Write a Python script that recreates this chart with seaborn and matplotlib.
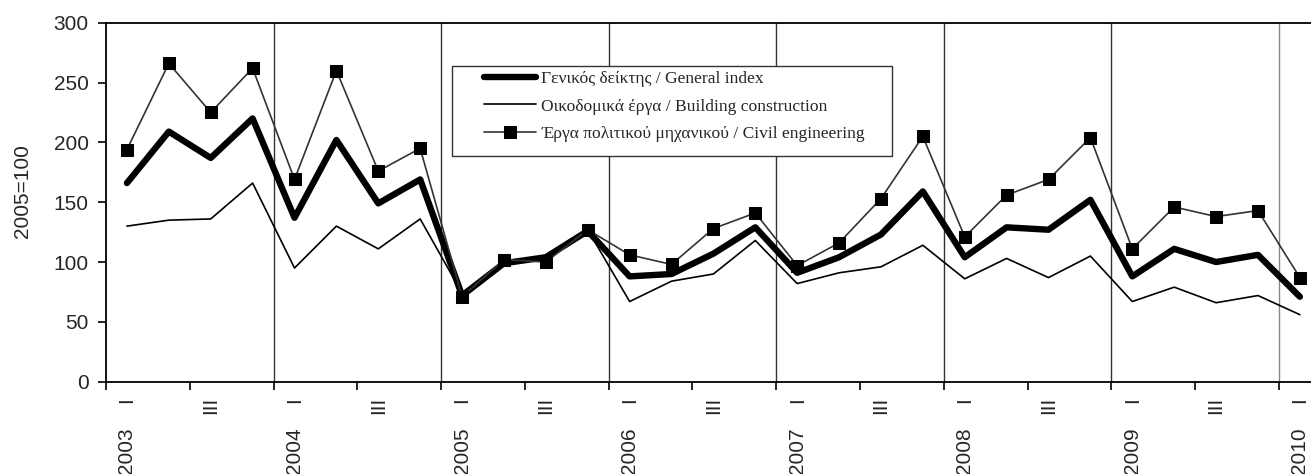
import numpy as np
import pandas as pd
import matplotlib
matplotlib.use('Agg')
import matplotlib.pyplot as plt
import matplotlib.transforms as mtransforms
from matplotlib.patches import Rectangle
import seaborn as sns

# quarterly index values, 2003 Q1 .. 2010 Q1 (2005=100)
years = ['2003', '2004', '2005', '2006', '2007', '2008', '2009', '2010']
quarter_labels = ['I', 'III']

general = [166, 209, 187, 220, 137, 202, 149, 169,
           72, 99, 104, 126, 88, 90, 107, 129,
           91, 104, 123, 159, 104, 129, 127, 152,
           88, 111, 100, 106, 71]
building = [130, 135, 136, 166, 95, 130, 111, 136,
            74, 98, 104, 127, 67, 84, 90, 118,
            82, 91, 96, 114, 86, 103, 87, 105,
            67, 79, 66, 72, 56]
civil = [194, 266, 225, 262, 169, 260, 176, 195,
         71, 102, 100, 127, 106, 98, 128, 141,
         97, 116, 153, 205, 121, 156, 169, 204,
         111, 146, 138, 143, 87]

lbl_general = 'Γενικός δείκτης / General index'
lbl_building = 'Οικοδομικά έργα / Building construction'
lbl_civil = 'Έργα πολιτικού μηχανικού / Civil engineering'

n = len(general)
df = pd.DataFrame({'pos': np.arange(n) + 0.5,
                   'general': general, 'building': building, 'civil': civil})

sns.set_style('white')
plt.rcParams['font.family'] = ['Liberation Sans Narrow', 'Liberation Sans', 'DejaVu Sans']
FS = 15

fig = plt.figure(figsize=(13.11, 4.74), dpi=100)
W, H = 1311, 474
x0, x1 = 106, 106 + 41.89 * 29
y_top, y_bot = 22.7, 381.7
ax = fig.add_axes([x0 / W, (H - y_bot) / H, (x1 - x0) / W, (y_bot - y_top) / H])

sns.lineplot(data=df, x='pos', y='general', ax=ax, color='black', lw=4.6,
             label=lbl_general, solid_joinstyle='round', solid_capstyle='round', zorder=3)
sns.lineplot(data=df, x='pos', y='building', ax=ax, color='black', lw=1.2,
             label=lbl_building, zorder=2)
sns.lineplot(data=df, x='pos', y='civil', ax=ax, color='#333333', lw=1.2,
             marker='s', markersize=9, markerfacecolor='black',
             markeredgecolor='black', label=lbl_civil, zorder=4)

ax.set_xlim(0, n)
ax.set_ylim(0, 300)
ax.set_yticks(range(0, 301, 50))
ax.set_xlabel('')

# year separators
for k in range(4, n, 4):
    c = '#888888' if k == 28 else '#333333'
    ax.axvline(k, color=c, lw=1, zorder=1)

for s in ['left', 'bottom', 'top']:
    ax.spines[s].set_color('black')
    ax.spines[s].set_linewidth(1.3)
ax.spines['right'].set_visible(False)

ax.set_xticks(range(0, n + 1, 2))
ax.set_xticklabels([])
minor_pos = [i + 0.5 for i in range(0, n, 2)]
ax.set_xticks(minor_pos, minor=True)
ax.set_xticklabels([quarter_labels[(i // 2) % 2] for i in range(0, n, 2)],
                   minor=True, rotation=90, fontsize=FS)
ax.tick_params(axis='x', which='major', direction='out', length=6, width=1.2,
               bottom=True, color='black')
ax.tick_params(axis='x', which='minor', length=0, pad=11)
ax.tick_params(axis='y', direction='out', length=5.5, width=1.2, left=True,
               pad=7, labelsize=FS, color='black')

trans = mtransforms.blended_transform_factory(ax.transData, ax.transAxes)
for j, yr in enumerate(years):
    ax.text(4 * j + 0.5, -0.128, yr, transform=trans, rotation=90,
            ha='center', va='top', fontsize=FS)

ax.set_ylabel('2005=100', fontsize=FS)
ax.yaxis.set_label_coords(-0.061, 0.53)

# legend box
lx0, lx1, ly0, ly1 = 452, 892, 65.7, 156
box = Rectangle(((lx0 - x0) / (x1 - x0), (y_bot - ly1) / (y_bot - y_top)),
                (lx1 - lx0) / (x1 - x0), (ly1 - ly0) / (y_bot - y_top),
                transform=ax.transAxes, facecolor='white', edgecolor='#333333',
                lw=1, zorder=5)
ax.add_patch(box)
leg = ax.legend(loc='upper left',
                bbox_to_anchor=((lx0 + 28 - x0) / (x1 - x0), (y_bot - ly0 - 2) / (y_bot - y_top)),
                frameon=False, handlelength=3.0, handletextpad=0.3,
                labelspacing=0.62, borderpad=0.2, borderaxespad=0,
                prop={'family': 'Liberation Serif', 'size': 12.6})
leg.set_zorder(6)

fig.savefig('out.png', dpi=100)
